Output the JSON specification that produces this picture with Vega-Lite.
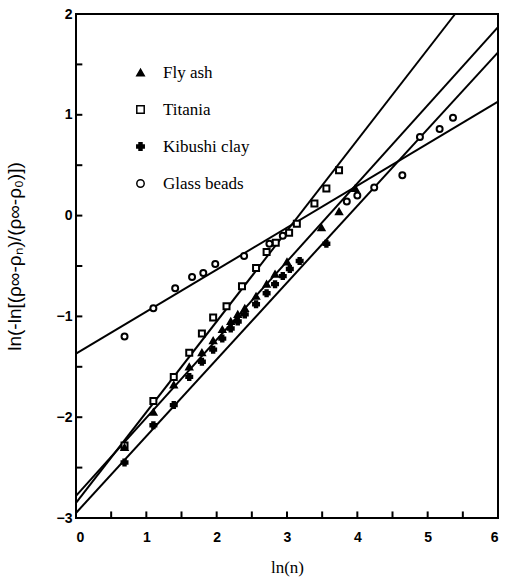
{
  "$schema": "https://vega.github.io/schema/vega-lite/v6.json",
  "autosize": "none",
  "width": 422,
  "height": 504,
  "padding": {"left": 76, "top": 14, "right": 13, "bottom": 66},
  "config": {
    "view": {"stroke": "black", "strokeWidth": 2},
    "axis": {"grid": false, "labelColor": "black", "titleColor": "black"}
  },
  "datasets": {
    "xticks": [
      {"x": 0.5}, {"x": 1}, {"x": 1.5}, {"x": 2}, {"x": 2.5}, {"x": 3}, {"x": 3.5}, {"x": 4}, {"x": 4.5}, {"x": 5}, {"x": 5.5}
    ],
    "yticks": [
      {"y": -2.5}, {"y": -2}, {"y": -1.5}, {"y": -1}, {"y": -0.5}, {"y": 0}, {"y": 0.5}, {"y": 1}, {"y": 1.5}
    ],
    "lines": [
      {"series": "Titania", "x": 0, "y": -2.85},
      {"series": "Titania", "x": 5.39, "y": 2.0},
      {"series": "Fly ash", "x": 0, "y": -2.78},
      {"series": "Fly ash", "x": 6, "y": 1.87},
      {"series": "Kibushi clay", "x": 0, "y": -2.95},
      {"series": "Kibushi clay", "x": 6, "y": 1.62},
      {"series": "Glass beads", "x": 0, "y": -1.37},
      {"series": "Glass beads", "x": 6, "y": 1.13}
    ],
    "points": [
      {"series": "Titania", "x": 0.69, "y": -2.28},
      {"series": "Titania", "x": 1.1, "y": -1.84},
      {"series": "Titania", "x": 1.39, "y": -1.6},
      {"series": "Titania", "x": 1.61, "y": -1.36},
      {"series": "Titania", "x": 1.79, "y": -1.17},
      {"series": "Titania", "x": 1.95, "y": -1.01},
      {"series": "Titania", "x": 2.14, "y": -0.9},
      {"series": "Titania", "x": 2.36, "y": -0.7},
      {"series": "Titania", "x": 2.56, "y": -0.52},
      {"series": "Titania", "x": 2.71, "y": -0.36},
      {"series": "Titania", "x": 2.84, "y": -0.27},
      {"series": "Titania", "x": 3.03, "y": -0.17},
      {"series": "Titania", "x": 3.14, "y": -0.08},
      {"series": "Titania", "x": 3.39, "y": 0.12},
      {"series": "Titania", "x": 3.56, "y": 0.27},
      {"series": "Titania", "x": 3.74, "y": 0.45},
      {"series": "Fly ash", "x": 0.69, "y": -2.3},
      {"series": "Fly ash", "x": 1.1, "y": -1.95},
      {"series": "Fly ash", "x": 1.39, "y": -1.68},
      {"series": "Fly ash", "x": 1.61, "y": -1.5},
      {"series": "Fly ash", "x": 1.79, "y": -1.36},
      {"series": "Fly ash", "x": 1.95, "y": -1.24},
      {"series": "Fly ash", "x": 2.08, "y": -1.13},
      {"series": "Fly ash", "x": 2.2, "y": -1.05},
      {"series": "Fly ash", "x": 2.3, "y": -0.98},
      {"series": "Fly ash", "x": 2.4, "y": -0.92},
      {"series": "Fly ash", "x": 2.56, "y": -0.8},
      {"series": "Fly ash", "x": 2.71, "y": -0.68},
      {"series": "Fly ash", "x": 2.83, "y": -0.58},
      {"series": "Fly ash", "x": 3.0, "y": -0.46},
      {"series": "Fly ash", "x": 3.49, "y": -0.12},
      {"series": "Fly ash", "x": 3.74, "y": 0.04},
      {"series": "Fly ash", "x": 3.97, "y": 0.27},
      {"series": "Kibushi clay", "x": 0.69, "y": -2.45},
      {"series": "Kibushi clay", "x": 1.1, "y": -2.08},
      {"series": "Kibushi clay", "x": 1.39, "y": -1.88},
      {"series": "Kibushi clay", "x": 1.61, "y": -1.6},
      {"series": "Kibushi clay", "x": 1.79, "y": -1.45},
      {"series": "Kibushi clay", "x": 1.95, "y": -1.33},
      {"series": "Kibushi clay", "x": 2.08, "y": -1.22},
      {"series": "Kibushi clay", "x": 2.2, "y": -1.12},
      {"series": "Kibushi clay", "x": 2.3, "y": -1.05},
      {"series": "Kibushi clay", "x": 2.4, "y": -0.98},
      {"series": "Kibushi clay", "x": 2.56, "y": -0.88},
      {"series": "Kibushi clay", "x": 2.71, "y": -0.77},
      {"series": "Kibushi clay", "x": 2.83, "y": -0.68},
      {"series": "Kibushi clay", "x": 2.94, "y": -0.6},
      {"series": "Kibushi clay", "x": 3.04, "y": -0.53},
      {"series": "Kibushi clay", "x": 3.18, "y": -0.45},
      {"series": "Kibushi clay", "x": 3.56, "y": -0.28},
      {"series": "Glass beads", "x": 0.69, "y": -1.2},
      {"series": "Glass beads", "x": 1.1, "y": -0.92},
      {"series": "Glass beads", "x": 1.41, "y": -0.72},
      {"series": "Glass beads", "x": 1.65, "y": -0.61},
      {"series": "Glass beads", "x": 1.81, "y": -0.57},
      {"series": "Glass beads", "x": 1.98, "y": -0.48},
      {"series": "Glass beads", "x": 2.39, "y": -0.4},
      {"series": "Glass beads", "x": 2.75, "y": -0.28},
      {"series": "Glass beads", "x": 2.94, "y": -0.2},
      {"series": "Glass beads", "x": 3.85, "y": 0.14},
      {"series": "Glass beads", "x": 4.0, "y": 0.2},
      {"series": "Glass beads", "x": 4.24, "y": 0.28},
      {"series": "Glass beads", "x": 4.64, "y": 0.4},
      {"series": "Glass beads", "x": 4.89, "y": 0.78},
      {"series": "Glass beads", "x": 5.17, "y": 0.86},
      {"series": "Glass beads", "x": 5.36, "y": 0.97}
    ]
  },
  "layer": [
    {
      "data": {"name": "lines"},
      "mark": {"type": "line", "color": "black", "strokeWidth": 2},
      "encoding": {
        "x": {"field": "x", "type": "quantitative", "scale": {"domain": [0, 6], "nice": false},
          "axis": {"values": [0, 1, 2, 3, 4, 5, 6], "format": "d", "ticks": false, "domain": false,
            "labelPadding": 12, "labelFont": "Liberation Sans", "labelFontWeight": "bold", "labelFontSize": 14,
            "title": "ln(n)", "titleFont": "Liberation Serif", "titleFontSize": 17, "titleFontWeight": "normal", "titlePadding": 15}},
        "y": {"field": "y", "type": "quantitative", "scale": {"domain": [-3, 2], "nice": false},
          "axis": {"values": [-3, -2, -1, 0, 1, 2], "format": "d", "ticks": false, "domain": false,
            "labelPadding": 4, "labelFont": "Liberation Sans", "labelFontWeight": "bold", "labelFontSize": 14,
            "title": "ln(-ln[(ρ∞-ρₙ)/(ρ∞-ρ₀)])", "titleFont": "Liberation Sans", "titleFontSize": 19, "titleFontWeight": "normal", "titleY": 242, "titleX": -52}},
        "detail": {"field": "series"}
      }
    },
    {
      "data": {"name": "xticks"},
      "mark": {"type": "rule", "color": "black", "strokeWidth": 2},
      "encoding": {
        "x": {"field": "x", "type": "quantitative"},
        "y": {"datum": -3, "type": "quantitative"},
        "y2": {"datum": -2.935}
      }
    },
    {
      "data": {"name": "yticks"},
      "mark": {"type": "rule", "color": "black", "strokeWidth": 2},
      "encoding": {
        "y": {"field": "y", "type": "quantitative"},
        "x": {"datum": 0, "type": "quantitative"},
        "x2": {"datum": 0.09}
      }
    },
    {
      "data": {"name": "points"},
      "mark": {"type": "point", "size": 36, "strokeWidth": 2, "stroke": "black", "opacity": 1},
      "encoding": {
        "x": {"field": "x", "type": "quantitative"},
        "y": {"field": "y", "type": "quantitative"},
        "shape": {"field": "series", "type": "nominal",
          "scale": {"domain": ["Fly ash", "Titania", "Kibushi clay", "Glass beads"], "range": ["triangle-up", "square", "cross", "circle"]},
          "legend": {"orient": "none", "legendX": 56, "legendY": 50, "title": null, "labelFont": "Liberation Serif", "labelFontSize": 17,
            "labelColor": "black", "rowPadding": 19, "symbolSize": 55, "labelOffset": 14,
            "encode": {"symbols": {"update": {"stroke": {"value": "black"}, "strokeWidth": {"value": 2}}}}}},
        "fill": {"field": "series", "type": "nominal",
          "scale": {"domain": ["Fly ash", "Titania", "Kibushi clay", "Glass beads"], "range": ["black", "white", "black", "white"]},
          "legend": {"orient": "none", "legendX": 56, "legendY": 50, "title": null, "labelFont": "Liberation Serif", "labelFontSize": 17,
            "labelColor": "black", "rowPadding": 19, "symbolSize": 55, "labelOffset": 14,
            "encode": {"symbols": {"update": {"stroke": {"value": "black"}, "strokeWidth": {"value": 2}}}}}}
      }
    }
  ]
}
